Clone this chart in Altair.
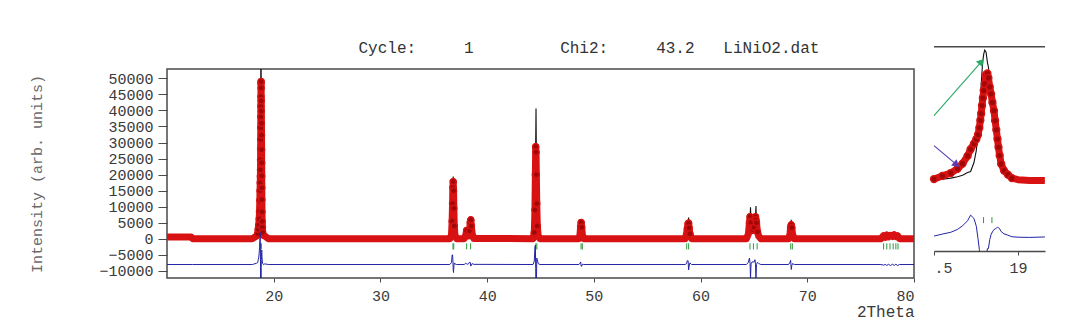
import altair as alt
import pandas as pd

# ---------------- data ----------------
two_theta = [
    10.00, 12.25, 12.40, 18.00, 18.40,
    18.50, 18.55, 18.60, 18.64, 18.67, 18.70, 18.718, 18.738, 18.752, 18.762,
    18.770, 18.776, 18.781, 18.786, 18.791, 18.796, 18.802, 18.810, 18.818,
    18.824, 18.832, 18.840, 18.848, 18.857, 18.864, 18.871, 18.878, 18.884,
    18.891, 18.900, 18.917, 18.940, 18.964, 19.00, 19.07, 19.16, 19.50,
    36.50, 36.66, 36.72, 36.76, 36.79, 36.82, 36.85, 36.88, 36.92, 36.98, 37.15,
    37.85, 38.00, 38.08, 38.15, 38.25, 38.35, 38.42, 38.47, 38.52, 38.60, 38.75,
    44.30, 44.42, 44.48, 44.52, 44.55, 44.58, 44.61, 44.65, 44.70, 44.78, 44.95,
    48.60, 48.70, 48.76, 48.81, 48.86, 48.92, 49.05,
    58.55, 58.68, 58.76, 58.83, 58.88, 58.93, 59.00, 59.15,
    64.30, 64.48, 64.58, 64.64, 64.68, 64.73, 64.82, 64.92, 65.02, 65.10,
    65.15, 65.19, 65.24, 65.33, 65.45, 65.65,
    68.25, 68.38, 68.44, 68.50, 68.55, 68.62, 68.78,
    76.90, 77.15, 77.30, 77.45, 77.60, 77.80, 78.00, 78.15, 78.30, 78.45, 78.65,
    80.00,
]
y_obs = [
    600, 600, 50, 50, 900,
    1600, 3000, 4300, 6200, 8500, 12000, 15000, 17500, 19500, 21500,
    24600, 28000, 31000, 34600, 38000, 41300, 44300, 48500, 49000,
    47000, 43000, 39800, 36000, 32300, 27800, 23700, 19600, 15900,
    12200, 8400, 5400, 3600, 2000, 1300, 960, 900, 50,
    50, 1200, 5500, 11000, 16000, 17800, 15000, 9500, 4000, 1200, 50,
    50, 1200, 2600, 1500, 900, 2500, 5200, 5900, 4000, 1500, 100,
    50, 2000, 9000, 20000, 28700, 27000, 20000, 11000, 4000, 1000, 50,
    50, 1300, 3800, 5100, 3600, 1300, 50,
    50, 1500, 3200, 4700, 4900, 3400, 1600, 50,
    50, 1500, 5000, 6900, 5500, 5200, 2600, 2800, 3600, 6000,
    6900, 5900, 5000, 2200, 800, 50,
    50, 1500, 3600, 4350, 3500, 1400, 50,
    50, 1000, 500, 1200, 600, 1100, 700, 1300, 700, 1000, 50,
    50,
]
y_calc = [
    600, 600, 50, 50, 500,
    1000, 1500, 2000, 2600, 3300, 4500, 5000, 9000, 14500, 22000,
    30000, 37000, 44000, 50000, 54700, 57700, 59500, 58500, 54000,
    52000, 44000, 38500, 33500, 28800, 24000, 19500, 15100, 11500,
    8400, 5800, 3800, 2600, 1700, 1200, 960, 700, 50,
    50, 600, 2500, 8000, 14500, 19400, 17500, 10000, 3500, 1000, 50,
    50, 800, 2400, 1400, 700, 1800, 4500, 6400, 4200, 1200, 50,
    50, 900, 3500, 14000, 30000, 40600, 27000, 9000, 2500, 700, 50,
    50, 900, 3000, 5600, 4200, 1200, 50,
    50, 1200, 2000, 3500, 6600, 3800, 1100, 50,
    50, 800, 3000, 6500, 9800, 5000, 1800, 2000, 2800, 4500,
    7000, 10200, 5000, 1500, 500, 50,
    50, 800, 2300, 5900, 3800, 1100, 50,
    50, 1200, 450, 1500, 550, 1400, 600, 1600, 600, 1300, 50,
    50,
]
bragg_pos = [18.795, 18.845, 36.80, 36.87, 38.08, 38.45, 44.56, 44.66,
             48.80, 48.92, 58.70, 58.88, 64.63, 64.95, 65.30, 68.45, 68.60,
             77.15, 77.45, 77.75, 78.05, 78.30, 78.50]

x_ticks_main = [20, 30, 40, 50, 60, 70, 80]
y_ticks_main = [-10000, -5000, 0, 5000, 10000, 15000, 20000, 25000,
                30000, 35000, 40000, 45000, 50000]
x_ticks_inset = [18.5, 19.0]

diff_offset_main = -8000
diff_offset_inset = -24600
tick_top_main, tick_bot_main = -1400, -3300
tick_top_inset, tick_bot_inset = -15500, -18200

# zoom window: x range and the level of its top frame line
inset_x_min, inset_x_max = 18.5, 19.161
inset_y_min, inset_y_view_top, inset_y_frame = -30700, 51000, 61000

# arrows drawn in the zoom window (data units of that window)
arrow_x0 = [18.50, 18.50]
arrow_y0 = [30100, 16600]
arrow_x1 = [18.778, 18.629]
arrow_y1 = [53900, 8400]
arrow_col = ["green", "purple"]
arrow_ang = [41, 130]

NB = "\u00a0"
title_text = ("Cycle:" + NB * 5 + "1" + NB * 9 + "Chi2:" + NB * 5 + "43.2"
              + NB * 3 + "LiNiO2.dat")

# ---------------- styling ----------------
FONT = "Liberation Mono"
RED = "#d81212"
DOT_FILL = "#a00808"
BLACK = "#111111"
BLUE = "#2323a6"
GREEN = "#2f9a3c"
AXC = "#4a4a4a"
TXT = "#3a3a3a"

df = pd.DataFrame({"tt": two_theta, "obs": y_obs, "calc": y_calc})
df["diff_main"] = df["obs"] - df["calc"] + diff_offset_main
df["diff_inset"] = df["obs"] - df["calc"] + diff_offset_inset

ticks_df = pd.DataFrame({"pos": bragg_pos})
ticks_df["top_m"] = tick_top_main
ticks_df["bot_m"] = tick_bot_main
ticks_df["top_i"] = tick_top_inset
ticks_df["bot_i"] = tick_bot_inset

arrows_df = pd.DataFrame({"x0": arrow_x0, "y0": arrow_y0, "x1": arrow_x1,
                          "y1": arrow_y1, "col": arrow_col, "ang": arrow_ang})

frame_df = pd.DataFrame({"xa": [inset_x_min], "xb": [inset_x_max],
                         "yf": [inset_y_frame]})

# ---------------- main pattern ----------------
xs = alt.Scale(domain=[10, 80], nice=False, zero=False)
ys = alt.Scale(domain=[-12200, 52900], nice=False, zero=False)

x_axis = alt.Axis(values=x_ticks_main, format="d", title="2Theta", grid=False,
                  domain=False, tickSize=4, tickColor=AXC, labelPadding=6,
                  labelFont=FONT, labelFontSize=15, labelColor=TXT,
                  titleFont=FONT, titleFontSize=16, titleFontWeight="normal",
                  titleColor=TXT, titleAnchor="end", titleAlign="right",
                  titleBaseline="top", titleY=25)
x_top = alt.Axis(orient="top", labels=False, ticks=False, domain=False,
                 grid=False, title=title_text, titleFont=FONT, titleFontSize=16,
                 titleFontWeight="normal", titleColor="#333333",
                 titleAnchor="start", titleAlign="left", titleX=191,
                 titlePadding=14)
y_axis = alt.Axis(values=y_ticks_main, format="d", title="Intensity (arb. units)",
                  grid=False, domain=False, tickSize=9, tickColor=AXC,
                  labelPadding=5, labelFont=FONT, labelFontSize=15,
                  labelColor=TXT, labelOverlap=False, titleFont=FONT,
                  titleFontSize=15, titleFontWeight="normal",
                  titleColor="#6a6a6a", titlePadding=54)

base = alt.Chart(df)
calc_line = base.mark_line(color=BLACK, strokeWidth=1.1, clip=True).encode(
    x=alt.X("tt:Q", scale=xs, axis=x_axis),
    y=alt.Y("calc:Q", scale=ys, axis=y_axis))
obs_line = base.mark_line(color=RED, strokeWidth=7, strokeCap="round",
                          strokeJoin="round", clip=True).encode(
    x=alt.X("tt:Q", scale=xs, axis=x_top), y=alt.Y("obs:Q", scale=ys, axis=y_axis))
obs_pts = base.transform_filter("datum.obs > 1500").mark_point(
    shape="circle", filled=True, size=38, fill=DOT_FILL, stroke=RED,
    strokeWidth=1.4, opacity=1, clip=True).encode(
    x=alt.X("tt:Q", scale=xs, axis=None), y=alt.Y("obs:Q", scale=ys, axis=y_axis))
bragg = alt.Chart(ticks_df).mark_rule(color=GREEN, strokeWidth=1).encode(
    x=alt.X("pos:Q", scale=xs, axis=None),
    y=alt.Y("top_m:Q", scale=ys, axis=y_axis), y2="bot_m:Q")
diff_line = base.mark_line(color=BLUE, strokeWidth=1, clip=True).encode(
    x=alt.X("tt:Q", scale=xs, axis=None),
    y=alt.Y("diff_main:Q", scale=ys, axis=y_axis))

main = alt.layer(calc_line, obs_line, obs_pts, bragg, diff_line).resolve_scale(
    x="independent").properties(
    width=747, height=209,
    view=alt.ViewBackground(stroke=AXC, strokeWidth=1.5))

# ---------------- zoom window ----------------
ixs = alt.Scale(domain=[inset_x_min, inset_x_max], nice=False, zero=False)
iys = alt.Scale(domain=[inset_y_min, inset_y_view_top], nice=False, zero=False)

ix_axis = alt.Axis(values=x_ticks_inset, grid=False, tickSize=4,
                   tickColor=AXC, domainColor=AXC, domainWidth=1.5,
                   labelExpr="datum.value < 18.75 ? '.5' : format(datum.value, 'd')",
                   labelAlign={"condition": {"test": "datum.value < 18.75", "value": "left"},
                               "value": "center"},
                   labelPadding=5, labelFont=FONT, labelFontSize=15,
                   labelColor=TXT, title=None)

idf = df[(df["tt"] >= inset_x_min) & (df["tt"] <= inset_x_max)]
idf_wide = df[(df["tt"] > 18.0) & (df["tt"] < 19.6)]
ib = alt.Chart(idf)
i_calc = ib.mark_line(color=BLACK, strokeWidth=1.1, clip=False).encode(
    x=alt.X("tt:Q", scale=ixs, axis=ix_axis),
    y=alt.Y("calc:Q", scale=iys, axis=None))
i_obs = ib.mark_line(color=RED, strokeWidth=7, strokeCap="butt",
                     strokeJoin="round", clip=False).encode(
    x=alt.X("tt:Q"), y=alt.Y("obs:Q"))
i_pts = ib.transform_filter("datum.obs > 1500").mark_point(
    shape="circle", filled=True, size=45, fill=DOT_FILL, stroke=RED,
    strokeWidth=1.6, opacity=1, clip=False).encode(x="tt:Q", y="obs:Q")
i_ticks = alt.Chart(ticks_df).transform_filter(
    "datum.pos > 18.5 && datum.pos < 19.16").mark_rule(
    color=GREEN, strokeWidth=1).encode(x="pos:Q", y="top_i:Q", y2="bot_i:Q")
i_diff = alt.Chart(idf_wide).mark_line(color=BLUE, strokeWidth=1, clip=True).encode(
    x="tt:Q", y="diff_inset:Q")
arrow_colors = alt.Scale(domain=["green", "purple"], range=["#2aa866", "#5b3cb0"])
i_arrow = alt.Chart(arrows_df).mark_rule(strokeWidth=1.1).encode(
    x="x0:Q", y="y0:Q", x2="x1:Q", y2="y1:Q",
    color=alt.Color("col:N", scale=arrow_colors, legend=None))
i_head = alt.Chart(arrows_df).mark_point(shape="triangle", filled=True,
                                         size=70, opacity=1).encode(
    x="x1:Q", y="y1:Q", angle=alt.Angle("ang:Q", scale=None),
    color=alt.Color("col:N", scale=arrow_colors, legend=None))
i_frame = alt.Chart(frame_df).mark_rule(color=AXC, strokeWidth=1.5).encode(
    x="xa:Q", x2="xb:Q", y="yf:Q")

inset = alt.layer(i_calc, i_obs, i_pts, i_ticks, i_diff, i_arrow, i_head,
                  i_frame).properties(
    width=111, height=182,
    view=alt.ViewBackground(strokeWidth=0, stroke="transparent"))

chart = alt.hconcat(main, inset, spacing=11).properties(
    padding={"left": 29, "top": 38, "right": 0, "bottom": 0},
    background="white",
).configure_view(strokeWidth=0).configure(font=FONT)

chart.save("out.html", embed_options={"renderer": "svg", "actions": False})
